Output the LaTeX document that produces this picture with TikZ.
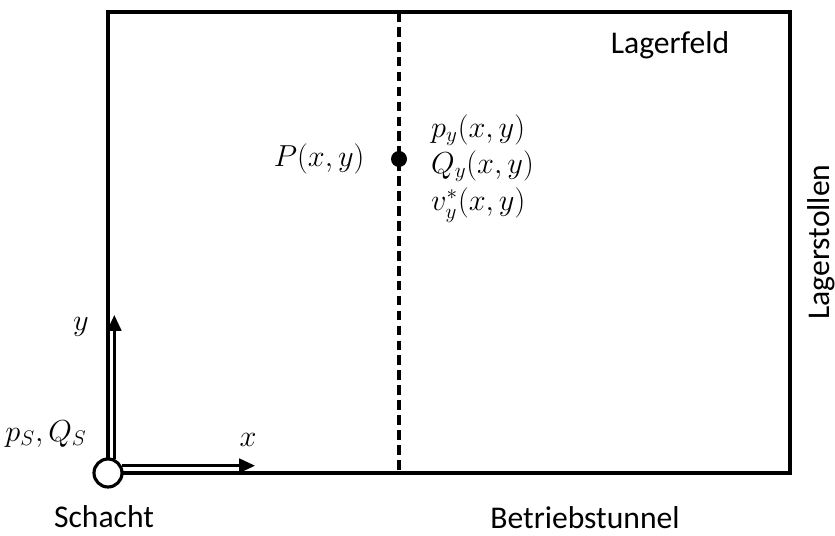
\documentclass[tikz,border=0pt]{standalone}
\usepackage{fontspec}
\setmainfont{Carlito}
\usetikzlibrary{positioning, arrows.meta}

\begin{document}
\begin{tikzpicture}[x=0.02cm, y=-0.02cm, font=\fontsize{18}{21}\selectfont,
    wall/.style={line width=1.8pt},
    axis/.style={line width=1.4pt, -{Triangle[length=9pt, width=8pt]}}]
    \useasboundingbox (0,0) rectangle (835,536);

    % Lagerfeld boundary
    \draw[wall] (108,12) rectangle (790,473);

    % section at x (dashed)
    \draw[wall, dash pattern=on 5.5pt off 3pt] (399,12) -- (399,473);

    % shaft and coordinate axes
    \node[circle, draw, line width=1.8pt, fill=white, inner sep=0pt, minimum size=0.56cm] (schacht) at (108,473) {};
    \coordinate (xend) at (255,466);
    \coordinate (yend) at (114,315);
    \draw[axis] (schacht.28) -- (schacht.28 -| xend);
    \draw[axis] (schacht.66) -- (schacht.66 |- yend);
    \node (ylab) at (81,327) {$y$};
    \node (xlab) at (248,440) {$x$};
    \node[anchor=east] (psqs) at (93,434) {$p_S, Q_S$};

    % point P on the section
    \node[circle, fill, inner sep=0pt, minimum size=0.32cm] (P) at (399,159) {};
    \node[left=0.4cm of P] (Plab) {$P(x,y)$};
    \node[anchor=west] (py) at (425,130) {$p_y(x,y)$};
    \node[anchor=west] (Qy) at (425,166) {$Q_y(x,y)$};
    \node[anchor=west] (vy) at (425,205) {$v_y^{*}(x,y)$};

    % names
    \node[anchor=base, inner sep=0pt] (schachtlab) at (104,528) {Schacht};
    \node[anchor=base, inner sep=0pt] (tunnel) at (585,529) {Betriebstunnel};
    \node (feld) at (670,45) {Lagerfeld};
    \node[rotate=90, inner sep=0pt] (stollen) at (821,242) {Lagerstollen};
\end{tikzpicture}
\end{document}
